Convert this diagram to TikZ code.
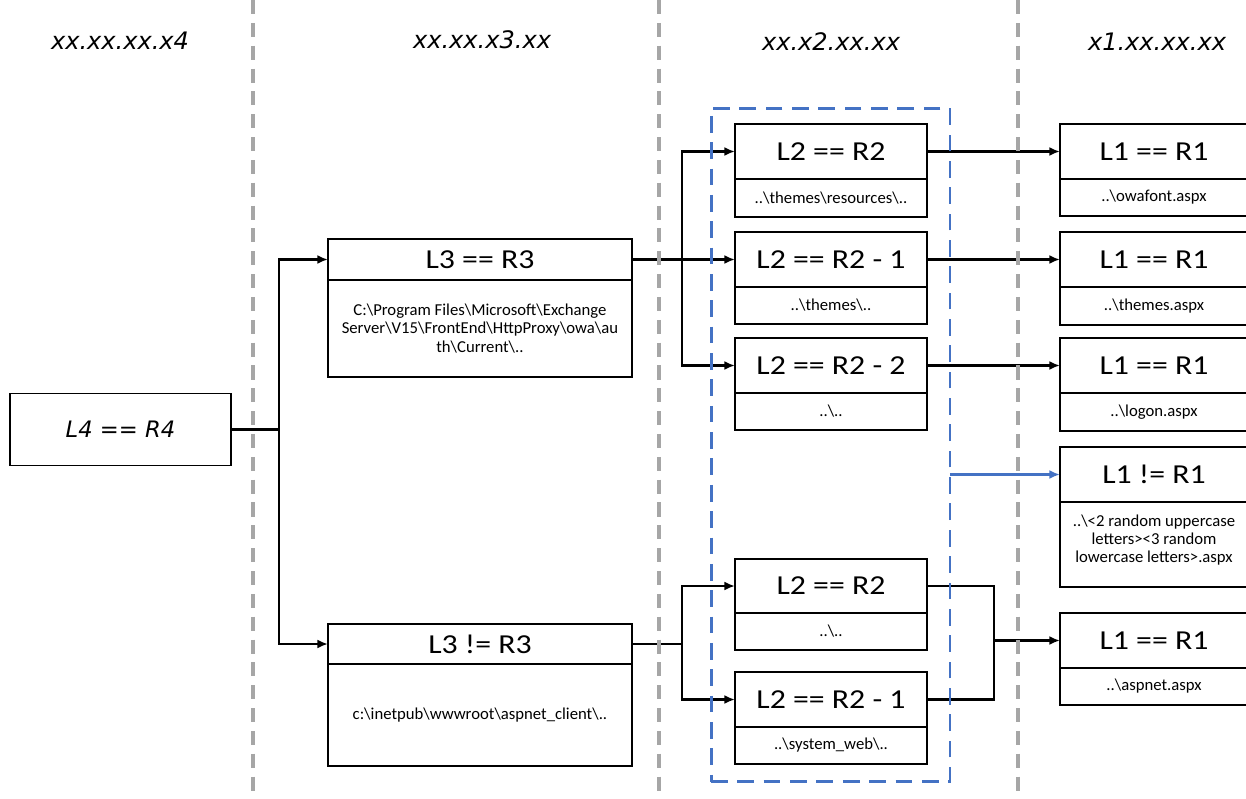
\documentclass[tikz,border=0pt]{standalone}
\usepackage{fontspec}
\setmainfont{Carlito}
\newfontfamily\labelfont{Carlito}[FakeStretch=1.16]
\newfontfamily\tagfont{DejaVu Sans}
\usetikzlibrary{arrows.meta}
\usetikzlibrary{positioning}
\definecolor{sepgray}{RGB}{166,166,166}
\definecolor{grpblue}{RGB}{68,114,196}
\newcommand{\bsl}{\textbackslash}

\tikzset{
  head/.style={draw, line width=0.9pt, fill=white, outer sep=0pt, inner sep=0pt,
    anchor=north west, font=\labelfont\fontsize{15.6}{18}\selectfont},
  body/.style={draw, line width=0.9pt, fill=white, outer sep=0pt, inner sep=0pt,
    align=center, font=\fontsize{9.5}{10.3}\selectfont},
  tag/.style={font=\tagfont\itshape\fontsize{13.7}{16}\selectfont, inner sep=0pt},
  conn/.style={line width=1.5pt},
  arr/.style={-{Latex[length=6pt,width=5pt]}},
  sepline/.style={sepgray, line width=2pt, dash pattern=on 8pt off 5pt},
  grp/.style={draw=grpblue, line width=1.7pt, dash pattern=on 9.5pt off 5.5pt,
    inner sep=0pt, outer sep=0pt},
}

\begin{document}
\begin{tikzpicture}[x=0.02cm, y=-0.02cm]
    \useasboundingbox (0,0) rectangle (1246,798);
    % column titles
    \node[tag] (t4) at (120,41) {xx.xx.xx.x4};
    \node[tag] (t3) at (482,40) {xx.xx.x3.xx};
    \node[tag] (t2) at (831,42) {xx.x2.xx.xx};
    \node[tag] (t1) at (1157,42) {x1.xx.xx.xx};
    % level 4
    \node[draw, line width=0.9pt, outer sep=0pt, minimum width=4.42cm, minimum height=1.44cm,
      font=\tagfont\itshape\fontsize{12.9}{15}\selectfont] (l4) at (120.5,429.5) {L4 == R4};
    % level 3
    \node[head, minimum width=6.08cm, minimum height=0.82cm] (l3a) at (328,239) {L3 == R3};
    \node[body, below=0pt of l3a, minimum width=6.08cm, minimum height=1.94cm] (l3ab)
      {C:\bsl Program Files\bsl Microsoft\bsl Exchange\\Server\bsl V15\bsl FrontEnd\bsl HttpProxy\bsl owa\bsl au\\th\bsl Current\bsl ..};
    \node[head, minimum width=6.08cm, minimum height=0.8cm] (l3b) at (328,624) {L3 != R3};
    \node[body, below=0pt of l3b, minimum width=6.08cm, minimum height=2.04cm] (l3bb)
      {c:\bsl inetpub\bsl wwwroot\bsl aspnet\textunderscore client\bsl ..};
    % level 2
    \node[head, minimum width=3.84cm, minimum height=1.1cm] (b1) at (735,124) {L2 == R2};
    \node[body, below=0pt of b1, minimum width=3.84cm, minimum height=0.76cm] (b1b) {..\bsl themes\bsl resources\bsl ..};
    \node[head, minimum width=3.84cm, minimum height=1.1cm] (b2) at (735,232) {L2 == R2 - 1};
    \node[body, below=0pt of b2, minimum width=3.84cm, minimum height=0.74cm] (b2b) {..\bsl themes\bsl ..};
    \node[head, minimum width=3.84cm, minimum height=1.1cm] (b3) at (735,338) {L2 == R2 - 2};
    \node[body, below=0pt of b3, minimum width=3.84cm, minimum height=0.74cm] (b3b) {..\bsl ..};
    \node[head, minimum width=3.84cm, minimum height=1.08cm] (b4) at (735,559) {L2 == R2};
    \node[body, below=0pt of b4, minimum width=3.84cm, minimum height=0.74cm] (b4b) {..\bsl ..};
    \node[head, minimum width=3.84cm, minimum height=1.1cm] (b5) at (735,672) {L2 == R2 - 1};
    \node[body, below=0pt of b5, minimum width=3.84cm, minimum height=0.74cm] (b5b) {..\bsl system\textunderscore web\bsl ..};
    % level 1
    \node[head, minimum width=3.76cm, minimum height=1.1cm] (a1) at (1060,124) {L1 == R1};
    \node[body, below=0pt of a1, minimum width=3.76cm, minimum height=0.74cm] (a1b) {..\bsl owafont.aspx};
    \node[head, minimum width=3.76cm, minimum height=1.1cm] (a2) at (1060,232) {L1 == R1};
    \node[body, below=0pt of a2, minimum width=3.76cm, minimum height=0.76cm] (a2b) {..\bsl themes.aspx};
    \node[head, minimum width=3.76cm, minimum height=1.1cm] (a3) at (1060,338) {L1 == R1};
    \node[body, below=0pt of a3, minimum width=3.76cm, minimum height=0.76cm] (a3b) {..\bsl logon.aspx};
    \node[head, minimum width=3.76cm, minimum height=1.1cm] (a4) at (1060,447) {L1 != R1};
    \node[body, below=0pt of a4, minimum width=3.76cm, minimum height=1.7cm] (a4b)
      {..\bsl<2 random uppercase\\letters><3 random\\lowercase letters>.aspx\\[-3.5pt]};
    \node[head, minimum width=3.76cm, minimum height=1.1cm] (a5) at (1060,613) {L1 == R1};
    \node[body, below=0pt of a5, minimum width=3.76cm, minimum height=0.74cm] (a5b) {..\bsl aspnet.aspx};
    % connectors
    \draw[conn] (l4.east) -- ++(48,0) coordinate (j4);
    \draw[conn, arr] (j4) |- (l3a.west);
    \draw[conn, arr] (j4) |- (l3b.west);
    \draw[conn, arr] (l3a.east) -- (b2.west);
    \coordinate (j3) at ([xshift=1cm]l3a.east);
    \draw[conn, arr] (j3) |- (b1.west);
    \draw[conn, arr] (j3) |- (b3.west);
    \draw[conn] (l3b.east) -- ++(50,0) coordinate (j5);
    \draw[conn, arr] (j5) |- (b4.west);
    \draw[conn, arr] (j5) |- (b5.west);
    \foreach \i in {1,2,3}
      \draw[conn, arr] (b\i.east) -- (a\i.west);
    \coordinate (j6) at ([xshift=-1.32cm]a5.west);
    \draw[conn] (b4.east) -| (j6) |- (b5.east);
    \draw[conn, arr] (j6) -- (a5.west);
    % column separators and group
    \foreach \x in {253,659,1018}
      \draw[sepline] (\x,0) -- (\x,798);
    \node[grp, minimum width=4.78cm, minimum height=13.48cm] (grp) at (830.5,445) {};
    \draw[grpblue, line width=1.3pt, arr] (grp.east |- a4.west) -- (a4.west);
\end{tikzpicture}
\end{document}
